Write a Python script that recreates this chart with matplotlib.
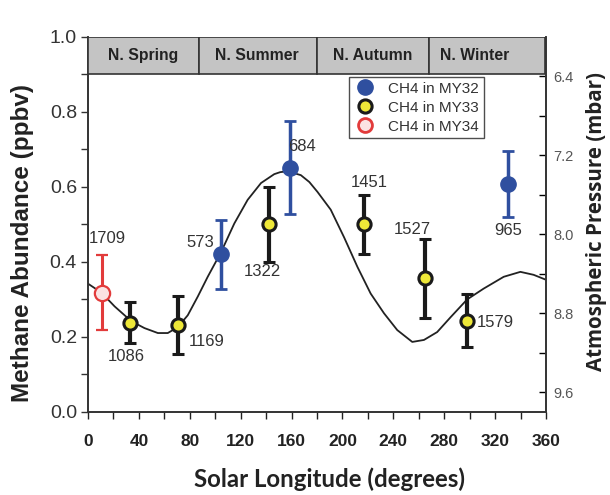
import numpy as np
import matplotlib
matplotlib.use("Agg")
import matplotlib.pyplot as plt
from matplotlib.patches import Rectangle
from matplotlib.lines import Line2D

# methane measurements (Ls in degrees, abundance in ppbv, 1-sigma error, sol)
my32_ls = [104.8, 158.4, 330.5]
my32_ch4 = [0.42, 0.651, 0.608]
my32_err = [0.092, 0.124, 0.089]
my32_sol = ["573", "684", "965"]

my33_ls = [32.9, 70.8, 142.0, 216.7, 264.8, 297.8]
my33_ch4 = [0.238, 0.232, 0.50, 0.50, 0.356, 0.243]
my33_err = [0.054, 0.077, 0.10, 0.079, 0.105, 0.071]
my33_sol = ["1086", "1169", "1322", "1451", "1527", "1579"]

my34_ls = [10.7]
my34_ch4 = [0.318]
my34_err = [0.10]
my34_sol = ["1709"]

# surface pressure curve (mbar)
press_ls = [0, 10.5, 20.9, 34, 44.4, 54.9, 62.7, 70.6, 78.4, 86.3, 94.1,
            104.6, 115, 125.5, 136, 146.4, 151, 156.9, 162, 167.3, 174,
            180.4, 190.8, 201.3, 211.8, 222.2, 232.7, 243.1, 254.9, 264.1,
            274.5, 285, 298, 311, 326.8, 339.9, 350.3, 360]
press_mbar = [8.50, 8.59, 8.73, 8.88, 8.95, 9.00, 9.00, 8.94, 8.82, 8.63, 8.43,
              8.18, 7.89, 7.65, 7.48, 7.39, 7.37, 7.36, 7.38, 7.40, 7.47,
              7.57, 7.75, 8.03, 8.33, 8.60, 8.80, 8.97, 9.09, 9.07,
              8.99, 8.84, 8.66, 8.55, 8.43, 8.38, 8.41, 8.46]

seasons = ["N. Spring", "N. Summer", "N. Autumn", "N. Winter"]
season_edges = [0, 87, 180, 268, 359]
season_text_ls = [43, 133, 224, 304]

# label positions for sol numbers (Ls, ppbv)
sol_pos = {"573": (88, 0.451), "684": (168, 0.709), "965": (330, 0.485),
           "1086": (30, 0.147), "1169": (93, 0.187), "1322": (137, 0.374),
           "1451": (221, 0.611), "1527": (255, 0.487), "1579": (320, 0.238),
           "1709": (15, 0.463)}

blue = "#2f4f9f"
yellow = "#eee838"
red = "#e23b3b"
dark = "#1a1a1a"

fig = plt.figure(figsize=(6.1, 4.95), dpi=100)
ax = fig.add_axes([0.1443, 0.1677, 0.7507, 0.7576])
ax2 = ax.twinx()

ax2.plot(press_ls, press_mbar, color="#222222", lw=1.3, zorder=1)
ax2.set_ylim(9.8, 6.0)

ax.set_zorder(ax2.get_zorder() + 1)
ax.patch.set_visible(False)

ax.errorbar(my32_ls, my32_ch4, yerr=my32_err, fmt="o", color=blue,
            ecolor=blue, elinewidth=2.5, capsize=4, capthick=2,
            markersize=11, mec=blue)
ax.errorbar(my33_ls, my33_ch4, yerr=my33_err, fmt="o", color=yellow,
            ecolor=dark, elinewidth=3, capsize=4, capthick=2.2,
            markersize=9.5, mec=dark, mew=2.2)
ax.errorbar(my34_ls, my34_ch4, yerr=my34_err, fmt="o", color=red,
            ecolor=red, elinewidth=2.2, capsize=4, capthick=1.8,
            markersize=11, mfc="#fbe3e3", mec=red, mew=1.6)

for lab, (xx, yy) in sol_pos.items():
    ax.text(xx, yy, lab, ha="center", va="center", fontsize=12,
            color="#333333", family="Liberation Sans")

ax.set_xlim(0, 360)
ax.set_ylim(0, 1.0)

# season band
for i, name in enumerate(seasons):
    ax.add_patch(Rectangle((season_edges[i], 0.9), season_edges[i + 1] - season_edges[i], 0.1,
                           facecolor="#c4c4c4", edgecolor="#333333", lw=1.2, zorder=5))
    ax.text(season_text_ls[i], 0.95, name, ha="center", va="center", fontsize=11.3,
            fontweight="bold", color="#222222", family="Liberation Sans", zorder=6)

ax.set_xticks(np.arange(0, 361, 40))
ax.set_xticks(np.arange(20, 361, 40), minor=True)
ax.set_yticks([0.0, 0.2, 0.4, 0.6, 0.8, 1.0])
ax.set_yticks([0.1, 0.3, 0.5, 0.7, 0.9], minor=True)
ax.tick_params(axis="x", which="both", direction="out", length=5, width=1,
               labelsize=12.5, pad=11, colors="#222222")
ax.tick_params(axis="y", which="both", direction="out", length=5, width=1,
               labelsize=14, pad=3, colors="#333333")
for t in ax.get_xticklabels():
    t.set_fontweight("bold")
    t.set_family("Liberation Sans")
for t in ax.get_yticklabels():
    t.set_family("Liberation Sans")

ax2.set_yticks([6.4, 7.2, 8.0, 8.8, 9.6])
ax2.set_yticks([6.8, 7.6, 8.4, 9.2], minor=True)
ax2.tick_params(axis="y", which="both", direction="in", length=5, width=1,
                labelsize=10.5, labelcolor="#555555", pad=5)
for t in ax2.get_yticklabels():
    t.set_family("Liberation Sans")

for a in (ax, ax2):
    a.spines["top"].set_visible(False)
    for s in ("left", "right", "bottom"):
        a.spines[s].set_linewidth(1.2)
        a.spines[s].set_color("#333333")

ax.set_xlabel("Solar Longitude (degrees)", fontsize=17.3, fontweight="bold",
              family="Lato", color="#222222")
ax.xaxis.set_label_coords(0.528, -0.147)
ax.set_ylabel("Methane Abundance (ppbv)", fontsize=17.5, fontweight="bold",
              family="Liberation Sans", color="#222222")
ax.yaxis.set_label_coords(-0.118, 0.45)
ax2.set_ylabel("Atmospheric Pressure (mbar)", fontsize=14.8, fontweight="bold",
               family="Open Sans", color="#222222")
ax2.yaxis.set_label_coords(1.088, 0.508)

handles = [
    Line2D([], [], ls="none", marker="o", ms=11, color=blue, mec=blue),
    Line2D([], [], ls="none", marker="o", ms=9.5, color=yellow, mec=dark, mew=2.2),
    Line2D([], [], ls="none", marker="o", ms=10, color=red, mfc="#fbe3e3", mec=red, mew=2),
]
leg = ax.legend(handles, ["CH4 in MY32", "CH4 in MY33", "CH4 in MY34"],
                loc="upper left", bbox_to_anchor=(0.569, 0.893), frameon=True,
                fancybox=False, edgecolor="#222222", fontsize=11,
                handletextpad=0.7, borderpad=0.3, labelspacing=0.33,
                handlelength=1.6, borderaxespad=0)
leg.get_frame().set_linewidth(1.0)
for t in leg.get_texts():
    t.set_family("Liberation Sans")
    t.set_color("#333333")
leg.set_zorder(7)

fig.savefig("out.png", dpi=100)
